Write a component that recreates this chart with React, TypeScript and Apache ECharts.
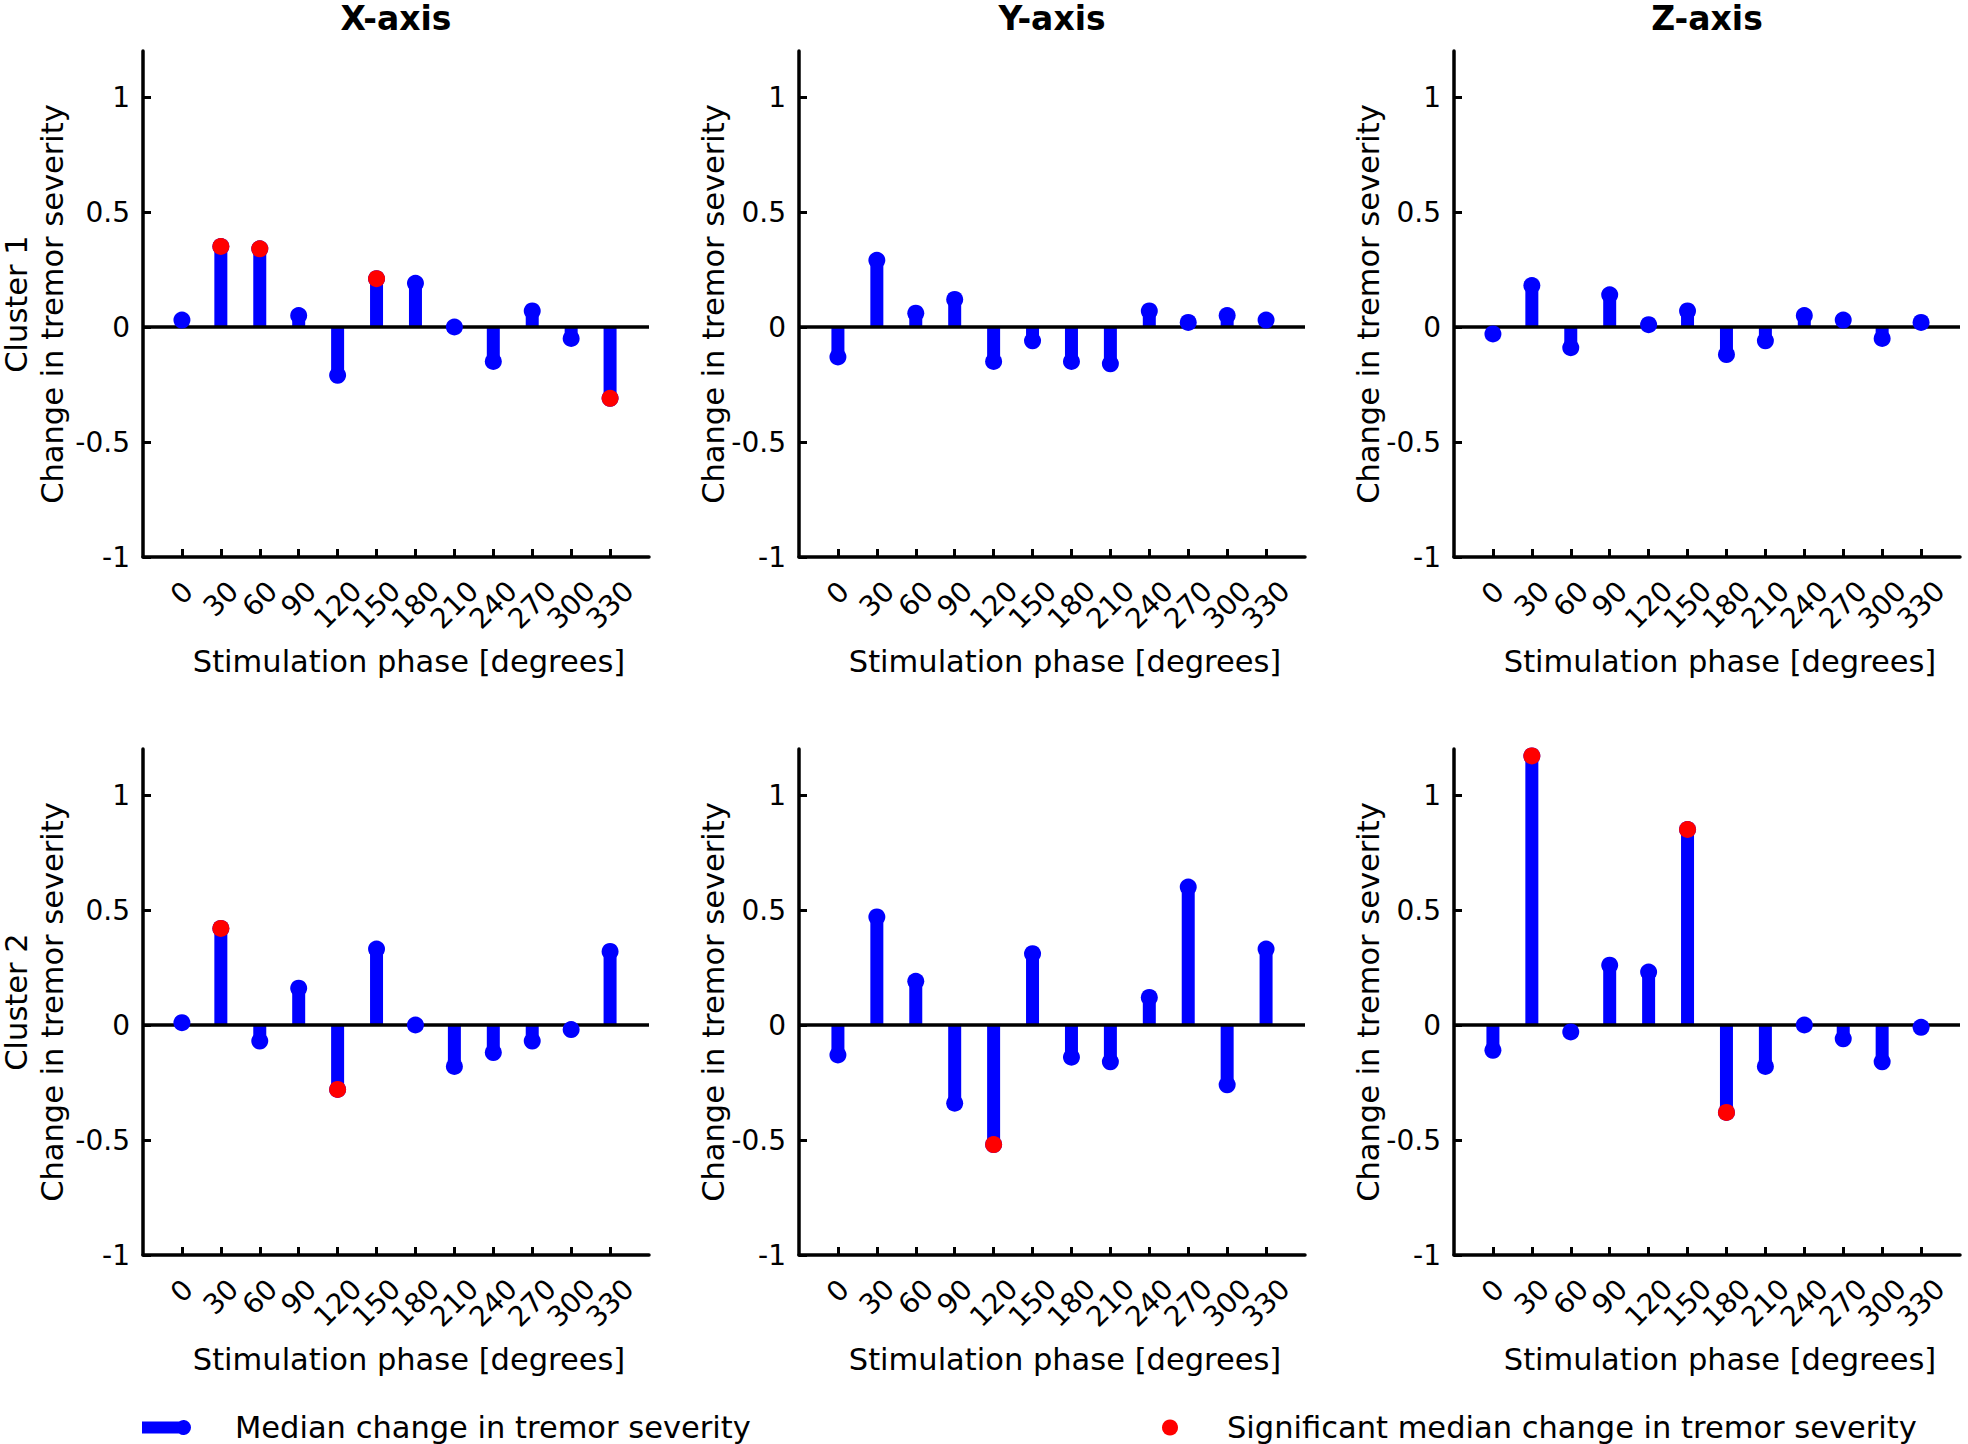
import React, { useEffect, useRef } from 'react';
import * as echarts from 'echarts';

// ---------- data ----------
const phases = [0, 30, 60, 90, 120, 150, 180, 210, 240, 270, 300, 330];
const yTicks = [-1, -0.5, 0, 0.5, 1];
const axisTitles = ['X-axis', 'Y-axis', 'Z-axis'];
const clusterNames = ['Cluster 1', 'Cluster 2'];

const cluster1X = [0.03, 0.35, 0.34, 0.05, -0.21, 0.21, 0.19, 0.0, -0.15, 0.07, -0.05, -0.31];
const cluster1Y = [-0.13, 0.29, 0.06, 0.12, -0.15, -0.06, -0.15, -0.16, 0.07, 0.02, 0.05, 0.03];
const cluster1Z = [-0.03, 0.18, -0.09, 0.14, 0.01, 0.07, -0.12, -0.06, 0.05, 0.03, -0.05, 0.02];
const cluster2X = [0.01, 0.42, -0.07, 0.16, -0.28, 0.33, 0.0, -0.18, -0.12, -0.07, -0.02, 0.32];
const cluster2Y = [-0.13, 0.47, 0.19, -0.34, -0.52, 0.31, -0.14, -0.16, 0.12, 0.6, -0.26, 0.33];
const cluster2Z = [-0.11, 1.17, -0.03, 0.26, 0.23, 0.85, -0.38, -0.18, 0.0, -0.06, -0.16, -0.01];

// phases with a significant median change
const cluster1XSig = [30, 60, 150, 330];
const cluster1YSig: number[] = [];
const cluster1ZSig: number[] = [];
const cluster2XSig = [30, 120];
const cluster2YSig = [120];
const cluster2ZSig = [30, 150, 180];

const MEDIAN_NAME = 'Median change in tremor severity';
const SIG_NAME = 'Significant median change in tremor severity';

// ---------- layout / style ----------
const FONT = 'DejaVu Sans';
const BLUE = '#0000ff';
const RED = '#ff0000';
const colLeft = [143, 799, 1454];
const rowTop = [51, 749];
const GRID_W = 506;
const GRID_H = 506;
const X_MIN = -30;
const X_MAX = 360;

const panels = [
  { values: cluster1X, sig: cluster1XSig },
  { values: cluster1Y, sig: cluster1YSig },
  { values: cluster1Z, sig: cluster1ZSig },
  { values: cluster2X, sig: cluster2XSig },
  { values: cluster2Y, sig: cluster2YSig },
  { values: cluster2Z, sig: cluster2ZSig },
];

function buildOption() {
  const grid: any[] = [];
  const xAxis: any[] = [];
  const yAxis: any[] = [];
  const series: any[] = [];

  const tickFont = { fontSize: 28, fontFamily: FONT, color: '#000' };
  // empty placeholder labels at the axis ends keep every real label visible
  const xLabelValues = [X_MIN, ...phases, X_MAX];

  panels.forEach((p, i) => {
    const r = Math.floor(i / 3);
    const c = i % 3;
    grid.push({
      left: colLeft[c],
      top: rowTop[r],
      width: GRID_W,
      height: GRID_H,
      containLabel: false,
      outerBoundsMode: 'none',
    });
    xAxis.push({
      gridIndex: i,
      type: 'value',
      min: X_MIN,
      max: X_MAX,
      axisLine: { onZero: false, lineStyle: { color: '#000', width: 3.5 } },
      axisTick: {
        inside: true,
        length: 8,
        customValues: phases,
        lineStyle: { color: '#000', width: 3 },
      },
      splitLine: { show: false },
      axisLabel: {
        customValues: xLabelValues,
        hideOverlap: false,
        rotate: 45,
        align: 'center',
        verticalAlign: 'middle',
        margin: 48,
        formatter: (v: number) => {
          if (phases.indexOf(v) < 0) return '';
          const s = String(v);
          return `{l${s.length}|${s}}`;
        },
        rich: {
          l1: { ...tickFont, padding: [0, 0, 17, 17] },
          l2: { ...tickFont, padding: [0, 0, 8.5, 8.5] },
          l3: { ...tickFont },
        },
      },
      name: 'Stimulation phase [degrees]',
      nameLocation: 'middle',
      nameGap: 86,
      nameMoveOverlap: false,
      nameTextStyle: {
        fontSize: 30.5,
        fontFamily: FONT,
        color: '#000',
        lineHeight: 36,
        padding: [0, 0, 0, 26],
      },
    });
    yAxis.push({
      gridIndex: i,
      type: 'value',
      min: -1,
      max: 1.2,
      axisLine: { show: true, onZero: false, lineStyle: { color: '#000', width: 3.5 } },
      axisTick: {
        show: true,
        inside: true,
        length: 8,
        customValues: yTicks,
        lineStyle: { color: '#000', width: 3 },
      },
      splitLine: { show: false },
      axisLabel: {
        customValues: yTicks,
        showMinLabel: true,
        showMaxLabel: true,
        margin: 13,
        ...tickFont,
      },
      name: c === 0 ? `${clusterNames[r]}\nChange in tremor severity` : 'Change in tremor severity',
      nameLocation: 'middle',
      nameRotate: 90,
      nameGap: c === 0 ? 73 : 68,
      nameMoveOverlap: false,
      nameTextStyle: {
        fontSize: 30.5,
        fontFamily: FONT,
        color: '#000',
        lineHeight: 36,
        align: 'center',
      },
    });

    const pts = phases.map((ph, j) => [ph, p.values[j]]);
    const sigPts = phases
      .map((ph, j) => [ph, p.values[j]])
      .filter((d) => p.sig.indexOf(d[0]) >= 0);

    series.push({
      name: MEDIAN_NAME,
      type: 'bar',
      xAxisIndex: i,
      yAxisIndex: i,
      barWidth: 13,
      itemStyle: { color: BLUE, opacity: 1 },
      data: pts,
      silent: true,
      z: 2,
      markLine: {
        silent: true,
        symbol: ['none', 'none'],
        label: { show: false },
        lineStyle: { color: '#000', width: 3.5, type: 'solid', opacity: 1 },
        emphasis: { disabled: true },
        data: [{ yAxis: 0 }],
        z: 5,
      },
    });
    series.push({
      name: MEDIAN_NAME,
      type: 'scatter',
      xAxisIndex: i,
      yAxisIndex: i,
      symbol: 'circle',
      symbolSize: 17,
      itemStyle: { color: BLUE, opacity: 1 },
      data: pts,
      silent: true,
      z: 10,
    });
    series.push({
      name: SIG_NAME,
      type: 'scatter',
      xAxisIndex: i,
      yAxisIndex: i,
      symbol: 'circle',
      symbolSize: 17,
      itemStyle: { color: RED, opacity: 1 },
      data: sigPts,
      silent: true,
      z: 11,
    });
  });

  const legendText = { fontSize: 30.5, fontFamily: FONT, color: '#000', lineHeight: 30 };

  return {
    animation: false,
    backgroundColor: '#ffffff',
    grid,
    xAxis,
    yAxis,
    series,
    legend: [
      {
        left: 142,
        top: 1412,
        padding: 0,
        itemWidth: 49,
        itemHeight: 15,
        selectedMode: false,
        data: [
          {
            name: MEDIAN_NAME,
            icon: 'path://M0 1.5H37A7.5 7.5 0 1 1 37 13.5H0Z',
            itemStyle: { color: BLUE, opacity: 1 },
          },
        ],
        textStyle: { ...legendText, padding: [0, 0, 0, 39] },
      },
      {
        left: 1162,
        top: 1412,
        padding: 0,
        itemWidth: 16,
        itemHeight: 16,
        selectedMode: false,
        data: [{ name: SIG_NAME, icon: 'circle', itemStyle: { color: RED, opacity: 1 } }],
        textStyle: { ...legendText, padding: [0, 0, 0, 44] },
      },
    ],
    graphic: axisTitles.map((t, c) => ({
      type: 'text',
      x: colLeft[c] + GRID_W / 2,
      y: 18,
      style: {
        text: t,
        fontSize: 33,
        fontWeight: 'bold',
        fontFamily: FONT,
        fill: '#000',
        align: 'center',
        verticalAlign: 'middle',
      },
    })),
  };
}

export default function App() {
  const ref = useRef<HTMLDivElement>(null);
  useEffect(() => {
    document.body.style.margin = '0';
    if (!ref.current) return;
    const chart = echarts.init(ref.current, null, { renderer: 'svg' });
    chart.setOption(buildOption() as any);
    return () => {
      chart.dispose();
    };
  }, []);
  return <div ref={ref} style={{ width: 1968, height: 1444, overflow: 'hidden' }} />;
}
